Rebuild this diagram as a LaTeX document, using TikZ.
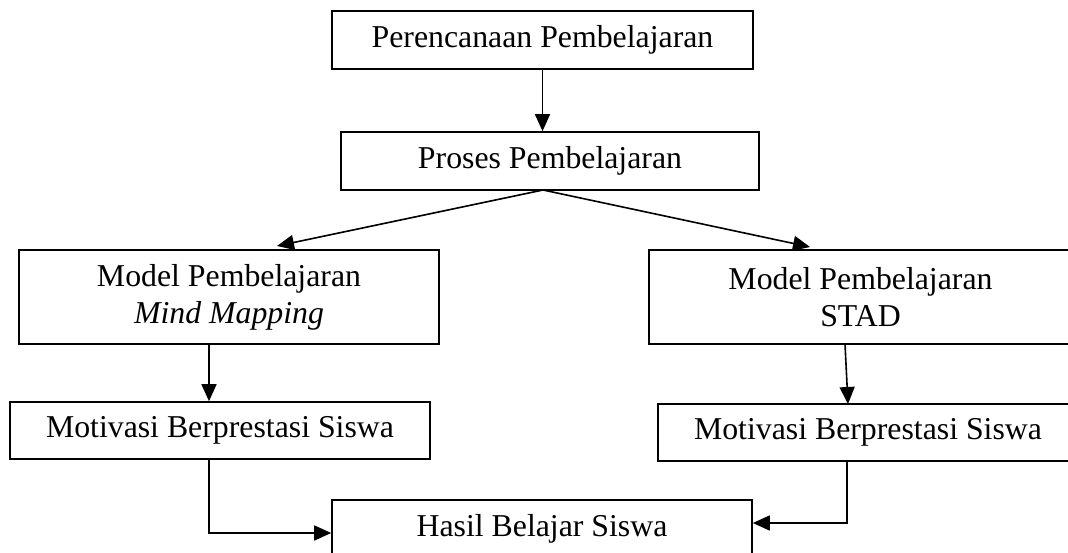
\documentclass[tikz,border=0pt]{standalone}
\usepackage{fontspec}
\setmainfont{Liberation Serif}
\usetikzlibrary{arrows.meta}
\tikzset{
  box/.style={draw, line width=1.6pt, rectangle, inner sep=0pt, align=center,
    font=\fontsize{31.8}{37}\selectfont},
  arr/.style={line width=1.6pt, -{Triangle[length=17pt,width=15pt]}},
}
\begin{document}
\begin{tikzpicture}[x=1pt,y=-1pt]
\useasboundingbox (0,0) rectangle (1068,553);
\clip (0,0) rectangle (1068,553);
\node[box, minimum width=421pt, minimum height=58pt] (plan) at (542.5,40) {Perencanaan Pembelajaran};
\node[box, minimum width=418pt, minimum height=58pt] (proses) at (550,161) {Proses Pembelajaran};
\node[box, minimum width=420pt, minimum height=94pt] (lmodel) at (229,297) {Model Pembelajaran\\\textit{Mind Mapping}};
\node[box, minimum width=423pt, minimum height=94pt] (rmodel) at (860.5,297) {Model Pembelajaran\\STAD};
\node[box, minimum width=420pt, minimum height=57pt] (lmot) at (220,430.5) {Motivasi Berprestasi Siswa};
\node[box, minimum width=420pt, minimum height=57pt] (rmot) at (868,432.5) {Motivasi Berprestasi Siswa};
\node[box, minimum width=420pt, minimum height=58pt] (hasil) at (542,529) {Hasil Belajar Siswa};
\coordinate (ps) at (543,190);
\coordinate (lt) at (277,246);
\coordinate (rt) at (810,247);
\coordinate (lx) at (209,0);
\coordinate (ly) at (0,533);
\coordinate (rtop) at (845,344);
\coordinate (rbot) at (848,404);
\coordinate (rx) at (847,0);
\coordinate (ry) at (0,523);
\draw[arr] (plan.south) -- (plan.south |- proses.north);
\draw[arr] (ps) -- (lt);
\draw[arr] (ps) -- (rt);
\draw[arr] (lmodel.south -| lx) -- (lmot.north -| lx);
\draw[arr] (rtop) -- (rbot);
\draw[arr] (lmot.south -| lx) |- (hasil.west |- ly);
\draw[arr] (rmot.south -| rx) |- (hasil.east |- ry);
\end{tikzpicture}
\end{document}
